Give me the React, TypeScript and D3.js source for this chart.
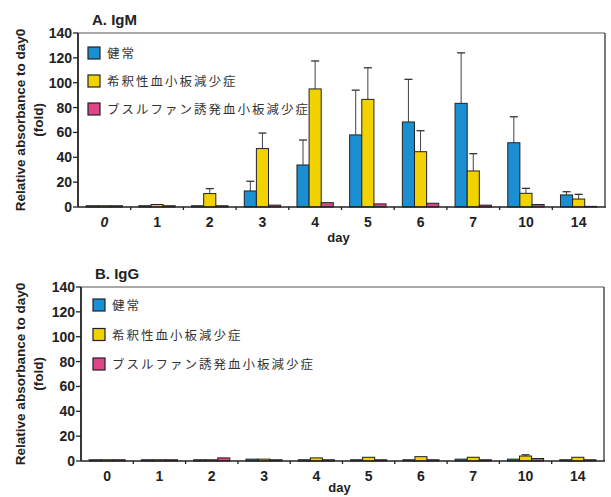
import React from "react";
import * as d3 from "d3";

const days = ["0", "1", "2", "3", "4", "5", "6", "7", "10", "14"];
const seriesNames = ["健常", "希釈性血小板減少症", "ブスルファン誘発血小板減少症"];
const colors = ["#1a90d2", "#f2d200", "#e0458a"];
const yTicks = [0, 20, 40, 60, 80, 100, 120, 140];

// IgM
const igmHealthy = [1, 1, 1, 12.9, 33.8, 58, 68.4, 83.4, 51.7, 9.7];
const igmHealthyErr = [1, 1, 1, 20.7, 53.9, 94, 102.7, 124, 72.6, 12.3];
const igmDilution = [1, 2, 10.8, 47, 95, 86.6, 44.5, 29, 11, 6.4];
const igmDilutionErr = [1, 2, 14.8, 59.5, 117.5, 112, 61.4, 42.9, 15, 10.2];
const igmBusulfan = [1, 1, 1, 1.5, 3.5, 2.5, 3, 1.5, 2, 0.5];
const igmBusulfanErr = [1, 1, 1, 1.5, 3.5, 2.5, 3, 1.5, 2, 0.5];

// IgG
const iggHealthy = [1, 1, 1, 1.5, 1, 1, 1, 1.5, 1.5, 1];
const iggHealthyErr = [1, 1, 1, 1.5, 1, 1, 1, 1.5, 1.5, 1];
const iggDilution = [1, 1, 1, 1.5, 2.5, 3, 3.5, 3, 4, 3];
const iggDilutionErr = [1, 1, 1, 1.5, 2.5, 3, 3.5, 3, 5, 3.5];
const iggBusulfan = [1, 1, 2.5, 1, 1, 1, 1, 1, 2, 1];
const iggBusulfanErr = [1, 1, 2.5, 1, 1, 1, 1, 1, 2, 1];

const FONT = "'Liberation Sans', Arial, sans-serif";
const JFONT = "'Noto Sans CJK JP', sans-serif";

type PanelProps = {
  title: string;
  left: number;
  right: number;
  top: number;
  bottom: number;
  values: number[][];
  errs: number[][];
  legendX: number;
  legendY: number;
  legendStep: number;
  italicZero: boolean;
  dayY: number;
};

function Panel(p: PanelProps) {
  const x0 = d3.scaleBand<string>().domain(days).range([p.left, p.right]).paddingInner(0.31).paddingOuter(0.155);
  const x1 = d3.scaleBand<number>().domain([0, 1, 2]).range([0, x0.bandwidth()]);
  const y = d3.scaleLinear().domain([0, 140]).range([p.bottom, p.top]);
  const step = x0.step();
  const midY = (p.top + p.bottom) / 2;
  return (
    <g>
      <text x={p.left + 14} y={p.top - 8} fontFamily={FONT} fontWeight="bold" fontSize={15} fill="#222">{p.title}</text>
      {/* frame */}
      <line x1={p.left} x2={p.right} y1={p.top} y2={p.top} stroke="#555" strokeWidth={1} />
      <line x1={p.right} x2={p.right} y1={p.top} y2={p.bottom} stroke="#333" strokeWidth={1.3} />
      {/* y axis title */}
      <text transform={`translate(25,${midY}) rotate(-90)`} textAnchor="middle" fontFamily={FONT} fontWeight="bold" fontSize={13.5} fill="#222">Relative absorbance to day0</text>
      <text transform={`translate(43,${midY}) rotate(-90)`} textAnchor="middle" fontFamily={FONT} fontWeight="bold" fontSize={13.5} fill="#222">(fold)</text>
      {yTicks.map((t) => (
        <g key={t}>
          <line x1={p.left - 5} x2={p.left} y1={y(t)} y2={y(t)} stroke="#222" strokeWidth={1.3} />
          <text x={p.left - 6} y={y(t) + 5} textAnchor="end" fontFamily={FONT} fontWeight="bold" fontSize={14} fill="#222">{t}</text>
        </g>
      ))}
      {/* bars */}
      {days.map((d, i) => (
        <g key={d}>
          {p.values.map((vals, s) => {
            const bx = (x0(d) as number) + (x1(s) as number);
            const bw = x1.bandwidth();
            const cx = bx + bw / 2;
            return (
              <g key={s}>
                {p.errs[s][i] > vals[i] + 0.5 && (
                  <g>
                    <line x1={cx} x2={cx} y1={y(vals[i])} y2={y(p.errs[s][i])} stroke="#444" strokeWidth={1} />
                    <line x1={cx - 4} x2={cx + 4} y1={y(p.errs[s][i])} y2={y(p.errs[s][i])} stroke="#333" strokeWidth={1.3} />
                  </g>
                )}
                <rect x={bx} y={y(vals[i])} width={bw} height={p.bottom - y(vals[i])} fill={colors[s]} stroke="#222" strokeWidth={1} />
              </g>
            );
          })}
          <text x={(x0(d) as number) + x0.bandwidth() / 2} y={p.bottom + 20} textAnchor="middle" fontFamily={FONT} fontWeight="bold" fontStyle={p.italicZero && i === 0 ? "italic" : "normal"} fontSize={14} fill="#222">{d}</text>
          {i > 0 && (
            <line x1={p.left + step * i} x2={p.left + step * i} y1={p.bottom} y2={p.bottom + 3} stroke="#222" strokeWidth={1.3} />
          )}
        </g>
      ))}
      {/* axes */}
      <line x1={p.left} x2={p.left} y1={p.top} y2={p.bottom} stroke="#222" strokeWidth={1.8} />
      <line x1={p.left} x2={p.right + 1} y1={p.bottom} y2={p.bottom} stroke="#222" strokeWidth={1.5} />
      <text x={(p.left + p.right) / 2 - 3} y={p.dayY} textAnchor="middle" fontFamily={FONT} fontWeight="bold" fontSize={13} fill="#222">day</text>
      {/* legend */}
      {seriesNames.map((n, s) => (
        <g key={n} transform={`translate(${p.legendX},${p.legendY + s * p.legendStep})`}>
          <rect x={0} y={0} width={12} height={12} fill={colors[s]} stroke="#222" strokeWidth={1.2} />
          <text x={19} y={11} fontFamily={JFONT} fontSize={12.5} letterSpacing={2} fill="#333">{n}</text>
        </g>
      ))}
    </g>
  );
}

export default function App() {
  return (
    <svg width={611} height={497} style={{ position: "absolute", left: 0, top: 0, background: "#fff" }}>
      <Panel
        title="A. IgM"
        left={78}
        right={605}
        top={33}
        bottom={207}
        values={[igmHealthy, igmDilution, igmBusulfan]}
        errs={[igmHealthyErr, igmDilutionErr, igmBusulfanErr]}
        legendX={88}
        legendY={47}
        legendStep={28}
        italicZero={true}
        dayY={242}
      />
      <Panel
        title="B. IgG"
        left={81}
        right={604}
        top={287}
        bottom={461}
        values={[iggHealthy, iggDilution, iggBusulfan]}
        errs={[iggHealthyErr, iggDilutionErr, iggBusulfanErr]}
        legendX={93}
        legendY={299}
        legendStep={29.5}
        italicZero={false}
        dayY={492}
      />
    </svg>
  );
}
